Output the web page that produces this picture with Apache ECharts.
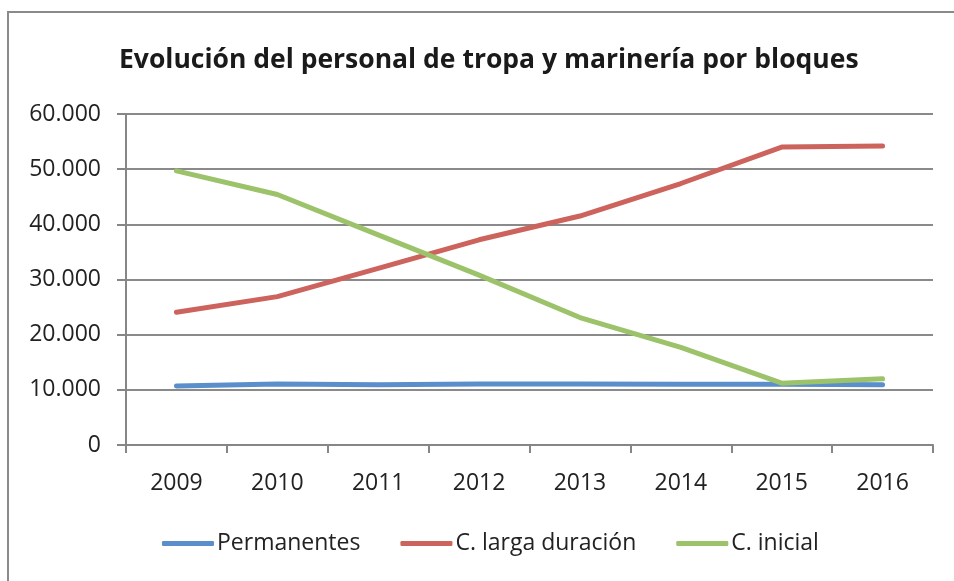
<!DOCTYPE html>
<html>
<head>
<meta charset="utf-8">
<script src="https://cdn.jsdelivr.net/npm/echarts@6/dist/echarts.min.js"></script>
<style>
  html, body { margin: 0; padding: 0; background: #fff; }
  #chart { width: 954px; height: 581px; }
</style>
</head>
<body>
<div id="chart"></div>
<script>
    var years = ['2009', '2010', '2011', '2012', '2013', '2014', '2015', '2016'];
    var permanentes = [10700, 11050, 10900, 11050, 11050, 11000, 11000, 10900];
    var largaDuracion = [24050, 26900, 32000, 37200, 41500, 47400, 54000, 54200];
    var inicial = [49700, 45400, 38100, 30800, 23100, 17700, 11200, 12000];
    var seriesNames = ['Permanentes', 'C. larga duración', 'C. inicial'];
    var colors = ['#5A8FCB', '#CD635D', '#9CC26A'];

    var font = '"Open Sans", sans-serif';
    var chart = echarts.init(document.getElementById('chart'), null, { renderer: 'canvas' });

    function line(name, data, color) {
        return {
            name: name,
            type: 'line',
            data: data,
            showSymbol: false,
            symbol: 'none',
            smooth: false,
            animation: false,
            lineStyle: { color: color, width: 5, cap: 'round', join: 'round' },
            itemStyle: { color: color }
        };
    }

    chart.setOption({
        backgroundColor: '#fff',
        animation: false,
        title: {
            text: 'Evolución del personal de tropa y marinería por bloques',
            left: 114,
            top: 42,
            textStyle: { fontFamily: font, fontSize: 26.5, fontWeight: 'bold', color: '#1a1a1a' }
        },
        graphic: [{
            type: 'rect',
            shape: { x: 8, y: 12, width: 960, height: 600 },
            style: { fill: 'none', stroke: '#8a8a8a', lineWidth: 2 },
            silent: true
        }],
        legend: {
            bottom: 21,
            left: 157,
            itemWidth: 52,
            itemHeight: 5,
            itemGap: 40,
            icon: 'roundRect',
            textStyle: { fontFamily: font, fontSize: 23, color: '#222', padding: [0, 0, 0, -2] },
            data: seriesNames
        },
        grid: { left: 126, right: 21, top: 114, bottom: 136 },
        xAxis: {
            type: 'category',
            data: years,
            boundaryGap: true,
            axisLine: { lineStyle: { color: '#868686', width: 2 } },
            axisTick: { show: true, length: 8, lineStyle: { color: '#868686', width: 2 } },
            axisLabel: { fontFamily: font, fontSize: 23, color: '#222', margin: 27 }
        },
        yAxis: {
            type: 'value',
            min: 0,
            max: 60000,
            interval: 10000,
            axisLine: { show: true, lineStyle: { color: '#868686', width: 2 } },
            axisTick: { show: true, length: 9, lineStyle: { color: '#868686', width: 2 } },
            splitLine: { lineStyle: { color: '#8a8a8a', width: 2 } },
            axisLabel: {
                fontFamily: font, fontSize: 23, color: '#222', margin: 25,
                formatter: function (v) {
                    return v === 0 ? '0' : String(v).replace(/\B(?=(\d{3})+(?!\d))/g, '.');
                }
            }
        },
        series: [
            line(seriesNames[0], permanentes, colors[0]),
            line(seriesNames[1], largaDuracion, colors[1]),
            line(seriesNames[2], inicial, colors[2])
        ]
    });
</script>
</body>
</html>
